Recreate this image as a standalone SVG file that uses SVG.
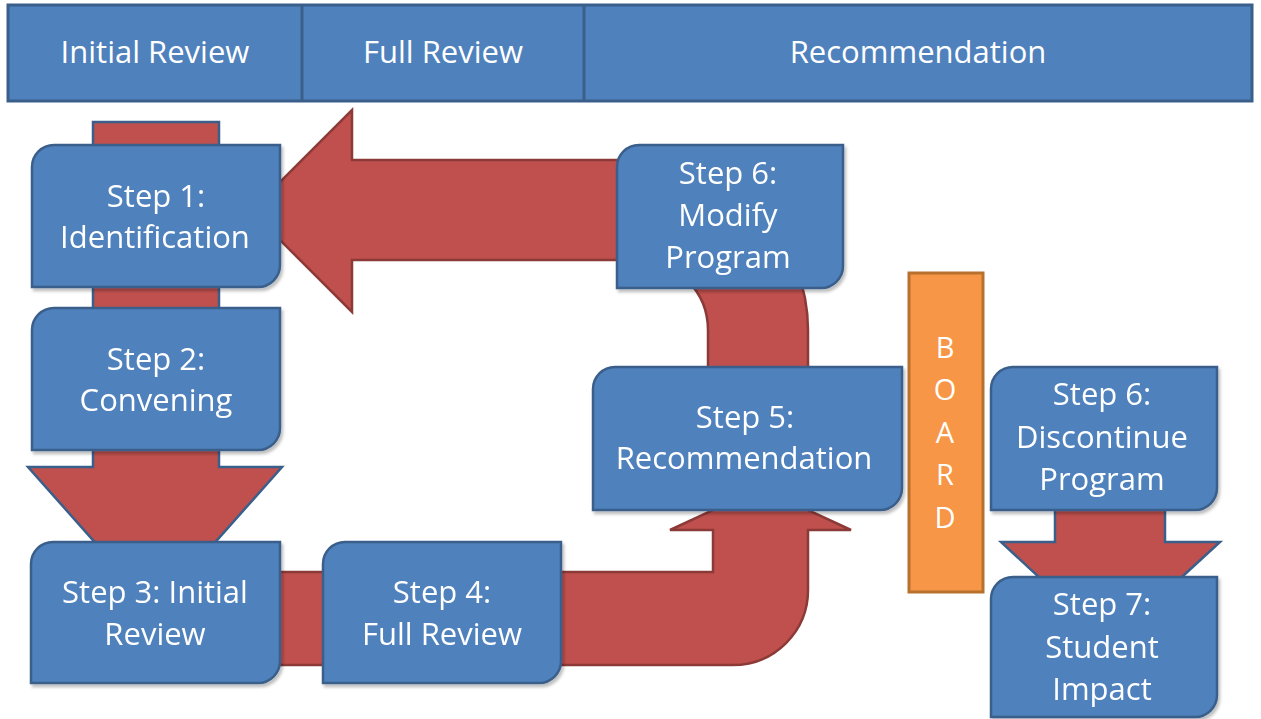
<svg xmlns="http://www.w3.org/2000/svg" width="1261" height="719" viewBox="0 0 1261 719">
<style>
.box{fill:#4F81BD;stroke:#3A5F8B;stroke-width:2.5}
.hdr{fill:#4F81BD;stroke:#3A5F8B;stroke-width:3}
.arrR{fill:#C0504D;stroke:#8C3A38;stroke-width:2.5;stroke-linejoin:miter}
.arrB{fill:#C0504D;stroke:#3A5F8B;stroke-width:2.5;stroke-linejoin:miter}
.board{fill:#F79646;stroke:#B8702E;stroke-width:3}
text{font-family:"Open Sans","Liberation Sans",sans-serif;font-size:31px;fill:#FFFFFF;text-anchor:middle}
.bl{font-size:29px}
</style>
<defs>
<filter id="sh" x="-5%" y="-5%" width="115%" height="120%">
<feDropShadow dx="2" dy="3" stdDeviation="1.5" flood-color="#000" flood-opacity="0.25"/>
</filter>
</defs>
<rect width="1261" height="719" fill="#FFFFFF"/>
<g id="header">
<rect class="hdr" x="8" y="5" width="1244" height="96"/>
<line x1="302" y1="5" x2="302" y2="101" stroke="#3A5F8B" stroke-width="3"/>
<line x1="584" y1="5" x2="584" y2="101" stroke="#3A5F8B" stroke-width="3"/>
<text x="155" y="63">Initial Review</text>
<text x="443" y="63">Full Review</text>
<text x="918" y="63">Recommendation</text>
</g>
<g id="connectors">
<path class="arrB" d="M93,122 H219 V467 H282 L155,610 L28,467 H93 Z"/>
<path class="arrR" d="M200,572 H713 V530 H670 L760.5,488 L851,530 H808 V590 A75,75 0 0 1 733,665 H200 Z"/>
<path class="arrR" d="M808,420 V330 A170,170 0 0 0 638,160 H352 V110 L251,211 L352,312 V260 H638 A70,70 0 0 1 708,330 V420 Z"/>
<path class="arrB" d="M1055,480 H1165 V542 H1220 L1110,643 L1001,542 H1055 Z"/>
</g>
<g id="step1" filter="url(#sh)">
<path class="box" d="M54,145 H280 V265 A22,22 0 0 1 258,287 H32 V167 A22,22 0 0 1 54,145 Z"/>
<text x="156" y="207">Step 1:</text>
<text x="155" y="248">Identification</text>
</g>
<g id="step2" filter="url(#sh)">
<path class="box" d="M54,308 H280 V428 A22,22 0 0 1 258,450 H32 V330 A22,22 0 0 1 54,308 Z"/>
<text x="156" y="370">Step 2:</text>
<text x="156" y="411">Convening</text>
</g>
<g id="step3" filter="url(#sh)">
<path class="box" d="M53,542 H280 V661 A22,22 0 0 1 258,683 H31 V564 A22,22 0 0 1 53,542 Z"/>
<text x="155" y="603">Step 3: Initial</text>
<text x="155" y="645">Review</text>
</g>
<g id="step4" filter="url(#sh)">
<path class="box" d="M345,542 H561 V661 A22,22 0 0 1 539,683 H323 V564 A22,22 0 0 1 345,542 Z"/>
<text x="442" y="603">Step 4:</text>
<text x="442" y="645">Full Review</text>
</g>
<g id="step5" filter="url(#sh)">
<path class="box" d="M615,367 H902 V488 A22,22 0 0 1 880,510 H593 V389 A22,22 0 0 1 615,367 Z"/>
<text x="745" y="428">Step 5:</text>
<text x="744" y="469">Recommendation</text>
</g>
<g id="step6modify" filter="url(#sh)">
<path class="box" d="M639,145 H843 V266 A22,22 0 0 1 821,288 H617 V167 A22,22 0 0 1 639,145 Z"/>
<text x="728" y="184">Step 6:</text>
<text x="728" y="226">Modify</text>
<text x="728" y="268">Program</text>
</g>
<g id="board">
<rect class="board" x="909" y="273" width="74" height="319"/>
<text class="bl" x="945" y="358">B</text>
<text class="bl" x="945" y="400">O</text>
<text class="bl" x="945" y="443">A</text>
<text class="bl" x="945" y="485">R</text>
<text class="bl" x="945" y="528">D</text>
</g>
<g id="step6discontinue" filter="url(#sh)">
<path class="box" d="M1013,367 H1217 V488 A22,22 0 0 1 1195,510 H991 V389 A22,22 0 0 1 1013,367 Z"/>
<text x="1102" y="405">Step 6:</text>
<text x="1102" y="448">Discontinue</text>
<text x="1102" y="490">Program</text>
</g>
<g id="step7" filter="url(#sh)">
<path class="box" d="M1013,577 H1217 V695 A22,22 0 0 1 1195,717 H991 V599 A22,22 0 0 1 1013,577 Z"/>
<text x="1102" y="615">Step 7:</text>
<text x="1102" y="658">Student</text>
<text x="1102" y="700">Impact</text>
</g>
</svg>
